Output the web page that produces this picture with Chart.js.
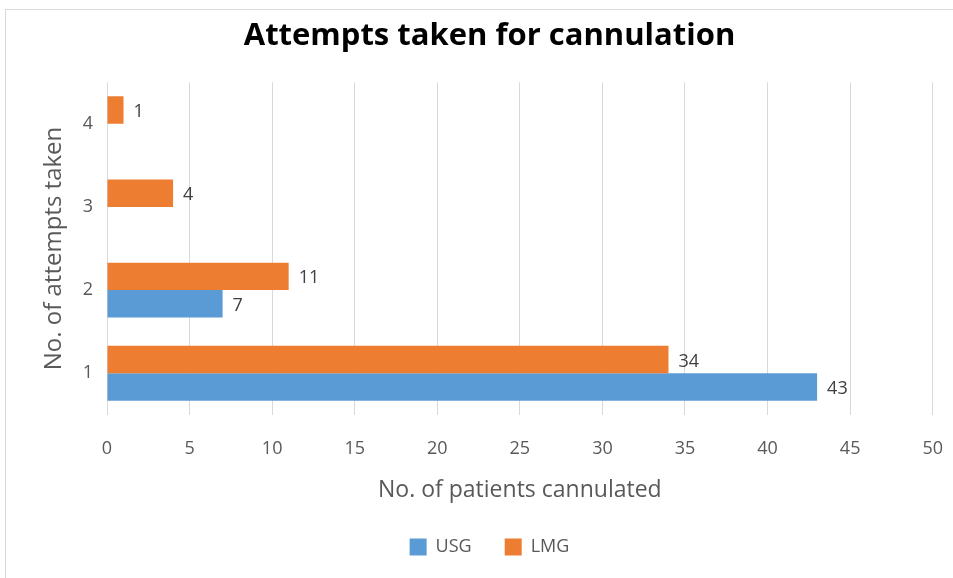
<!DOCTYPE html>
<html>
<head>
<meta charset="utf-8">
<script src="https://cdn.jsdelivr.net/npm/chart.js@4/dist/chart.umd.min.js"></script>
<style>
  html, body { margin: 0; padding: 0; background: #fff; }
  #wrap { position: relative; width: 953px; height: 578px; }
  #frame { position: absolute; left: 5px; top: 9px; width: 960px; height: 600px;
           border-top: 1px solid #d9d9d9; border-left: 1px solid #d9d9d9; }
  canvas { position: absolute; left: 0; top: 0; }
</style>
</head>
<body>
<div id="wrap">
  <div id="frame"></div>
  <canvas id="myChart" width="953" height="578"></canvas>
</div>
<script>
// attempts (category axis), bottom to top
const attempts = ['1', '2', '3', '4'];
const usg = [43, 7, null, null];
const lmg = [34, 11, 4, 1];
const xTicks = [0, 5, 10, 15, 20, 25, 30, 35, 40, 45, 50];

const FONT = '"Open Sans", "Noto Sans", sans-serif';

// draws the value next to the end of each bar
const barLabels = {
  id: 'barLabels',
  afterDatasetsDraw(chart) {
    const c = chart.ctx;
    c.save();
    c.font = '18px ' + FONT;
    c.fillStyle = '#404040';
    c.textAlign = 'left';
    c.textBaseline = 'middle';
    chart.data.datasets.forEach((ds, di) => {
      const meta = chart.getDatasetMeta(di);
      meta.data.forEach((bar, i) => {
        const v = ds.data[i];
        if (v === null || v === undefined) return;
        c.fillText(String(v), bar.x + 10, bar.y + 2);
      });
    });
    c.restore();
  }
};

const ctx = document.getElementById('myChart').getContext('2d');
const myChart = new Chart(ctx, {
  type: 'bar',
  data: {
    labels: attempts,
    datasets: [
      { label: 'LMG', data: lmg, backgroundColor: '#ED7D31' },
      { label: 'USG', data: usg, backgroundColor: '#5B9BD5' }
    ]
  },
  options: {
    indexAxis: 'y',
    responsive: false,
    animation: false,
    categoryPercentage: 0.66,
    barPercentage: 1,
    layout: { padding: { left: 40, right: 14, top: 0, bottom: 12 } },
    plugins: {
      title: {
        display: true,
        text: 'Attempts taken for cannulation',
        color: '#000',
        font: { family: FONT, size: 31, weight: 'bold' },
        padding: { top: 18, bottom: 27 }
      },
      legend: {
        position: 'bottom',
        reverse: true,
        labels: {
          color: '#595959',
          font: { family: FONT, size: 18 },
          boxWidth: 17,
          boxHeight: 17,
          padding: 33
        }
      },
      tooltip: { enabled: false }
    },
    scales: {
      x: {
        min: 0,
        max: 50,
        afterBuildTicks(scale) { scale.ticks = xTicks.map(v => ({ value: v })); },
        grid: { color: '#d9d9d9', drawTicks: true, tickLength: 13, tickColor: 'rgba(0,0,0,0)' },
        border: { display: false },
        ticks: { color: '#595959', font: { family: FONT, size: 18 }, padding: 10 },
        title: {
          display: true,
          text: 'No. of patients cannulated',
          color: '#595959',
          font: { family: FONT, size: 23 },
          padding: { top: 7, bottom: 1 }
        }
      },
      y: {
        reverse: true,
        grid: { display: false, drawTicks: false },
        border: { display: false },
        ticks: { color: '#595959', font: { family: FONT, size: 18 }, padding: 14 },
        title: {
          display: true,
          text: 'No. of attempts taken',
          color: '#595959',
          font: { family: FONT, size: 24 },
          padding: 0
        },
        afterFit(scale) { scale.width = 67; }
      }
    }
  },
  plugins: [barLabels]
});
</script>
</body>
</html>
